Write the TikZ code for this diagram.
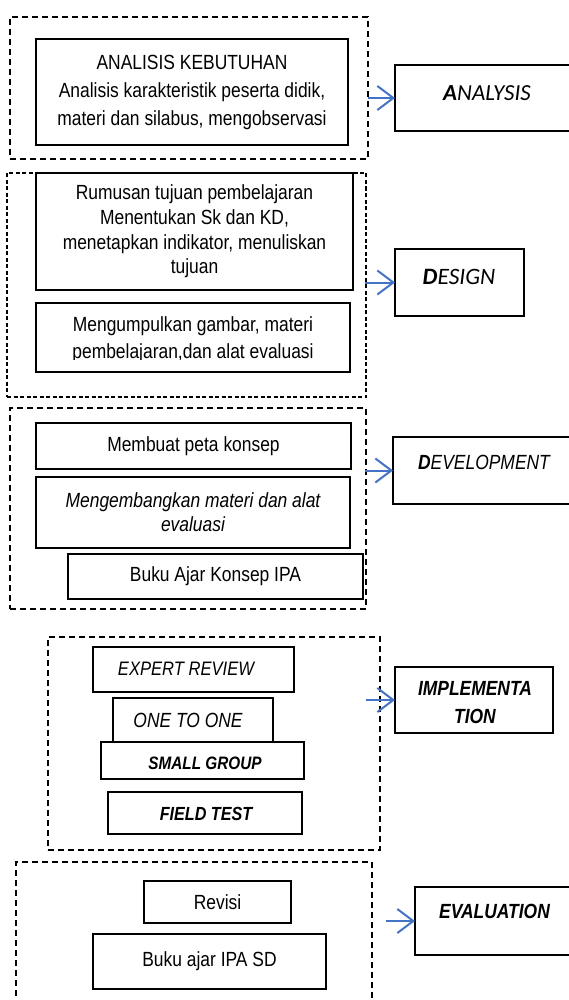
\documentclass[tikz,border=0pt]{standalone}
\usepackage{fontspec}
\setmainfont{Liberation Sans}[FakeStretch=0.85]
\newfontfamily\calib{Carlito}
\usetikzlibrary{arrows.meta}
\definecolor{arrblue}{HTML}{4472C4}
\tikzset{
  box/.style={draw, line width=1.5pt, inner sep=0pt, outer sep=0pt, anchor=north west, align=center, font=\fontsize{20.5}{24}\selectfont},
  dashbox/.style={draw, line width=1.3pt, dash pattern=on 6pt off 4pt, inner sep=0pt, outer sep=0pt, anchor=north west},
  finedash/.style={dash pattern=on 4pt off 2.5pt},
  arr/.style={draw=arrblue, line width=2pt, -{Straight Barb[length=16pt,width=24pt,line width=2pt]}},
  lbl/.style={inner sep=0pt, outer sep=0pt, align=center}
}
\begin{document}
\begin{tikzpicture}[x=1pt,y=-1pt]
\useasboundingbox (0,0) rectangle (569,1000);
\clip (0,0) rectangle (569,1000);
\fill[white] (0,0) rectangle (569,1000);

% ---------- ANALYSIS ----------
\node[dashbox, minimum width=358pt, minimum height=142pt] (d1) at (10,17) {};
\node[box, minimum width=312pt, minimum height=106pt, font=\fontsize{20.5}{28}\selectfont] (b1) at (36,39)
  {ANALISIS KEBUTUHAN\\Analisis karakteristik peserta didik,\\materi dan silabus, mengobservasi};
\node[box, minimum width=190pt, minimum height=66pt] (ra) at (395,65) {};
\node[lbl, font=\calib\itshape\fontsize{23}{28}\selectfont] (ta) at (487,93) {{\bfseries A}NALYSIS};
\coordinate (s1) at (368,98);
\draw[arr] (s1) -- (ra.west);

% ---------- DESIGN ----------
\node[dashbox, finedash, minimum width=359pt, minimum height=224pt] (d2) at (7,173) {};
\node[box, minimum width=317pt, minimum height=117pt, font=\fontsize{20.5}{24.6}\selectfont] (b2) at (36,173)
  {Rumusan tujuan pembelajaran\\Menentukan Sk dan KD,\\menetapkan indikator, menuliskan\\tujuan};
\node[box, minimum width=314pt, minimum height=69pt] (b3) at (36,303) {};
\begin{scope}
  \clip (36,303) rectangle (350,359);
  \node[lbl, font=\fontsize{20.5}{27}\selectfont] (t3) at (193,339.5)
    {Mengumpulkan gambar, materi\\pembelajaran,dan alat evaluasi};
\end{scope}
\node[box, minimum width=129pt, minimum height=67pt] (rd) at (395,249) {};
\node[lbl, font=\calib\itshape\fontsize{23.5}{28}\selectfont] (td) at (459,277) {{\bfseries D}ESIGN};
\coordinate (s2) at (365,282.5);
\draw[arr] (s2) -- (rd.west);

% ---------- DEVELOPMENT ----------
\node[dashbox, minimum width=356pt, minimum height=201pt] (d3) at (10,408) {};
\node[box, minimum width=315pt, minimum height=46pt] (b4) at (36,423) {Membuat peta konsep};
\node[box, minimum width=314pt, minimum height=71pt, font=\itshape\fontsize{20.5}{24}\selectfont] (b5) at (36,477)
  {Mengembangkan materi dan alat\\evaluasi};
\node[box, minimum width=295pt, minimum height=45pt] (b6) at (68,554) {Buku Ajar Konsep IPA};
\node[box, minimum width=190pt, minimum height=67pt] (rv) at (393,437) {};
\node[lbl, font=\itshape\fontsize{20.5}{24}\selectfont] (tv) at (484,462) {{\bfseries D}EVELOPMENT};
\coordinate (s3) at (365,470.5);
\draw[arr] (s3) -- (rv.west);

% ---------- IMPLEMENTATION ----------
\node[dashbox, minimum width=332pt, minimum height=213pt] (d4) at (48,637) {};
\node[box, minimum width=201pt, minimum height=45pt] (b7) at (93,647) {};
\node[lbl, font=\itshape\fontsize{19.5}{24}\selectfont] (t7) at (186,669) {EXPERT REVIEW};
\node[box, minimum width=160pt, minimum height=44pt] (b8) at (113,698) {};
\node[lbl, font=\itshape\fontsize{20.5}{24}\selectfont] (t8) at (188,720) {ONE TO ONE};
\node[box, minimum width=203pt, minimum height=37pt] (b9) at (101,742) {};
\node[lbl, font=\bfseries\itshape\fontsize{18}{22}\selectfont] (t9) at (205,763) {SMALL GROUP};
\node[box, minimum width=194pt, minimum height=42pt] (b10) at (108,792) {};
\node[lbl, font=\bfseries\itshape\fontsize{19}{22}\selectfont] (t10) at (206,814) {FIELD TEST};
\node[box, minimum width=158pt, minimum height=66pt] (ri) at (395,667) {};
\begin{scope}
  \clip (395,667) rectangle (553,723);
  \node[lbl, font=\bfseries\itshape\fontsize{20.5}{28}\selectfont] (ti) at (475,703) {IMPLEMENTA\\TION};
\end{scope}
\coordinate (s4) at (366,700);
\draw[arr] (s4) -- (ri.west);

% ---------- EVALUATION ----------
\node[dashbox, minimum width=356pt, minimum height=170pt] (d5) at (16,862) {};
\node[box, minimum width=147pt, minimum height=42pt] (b11) at (144,881) {Revisi};
\node[box, minimum width=233pt, minimum height=55pt] (b12) at (93,934) {Buku ajar IPA SD};
\node[box, minimum width=170pt, minimum height=68pt] (re) at (415,887) {};
\node[lbl, font=\bfseries\itshape\fontsize{20.5}{24}\selectfont] (te) at (494.5,911) {EVALUATION};
\coordinate (s5) at (386,921);
\draw[arr] (s5) -- (re.west);
\end{tikzpicture}
\end{document}
